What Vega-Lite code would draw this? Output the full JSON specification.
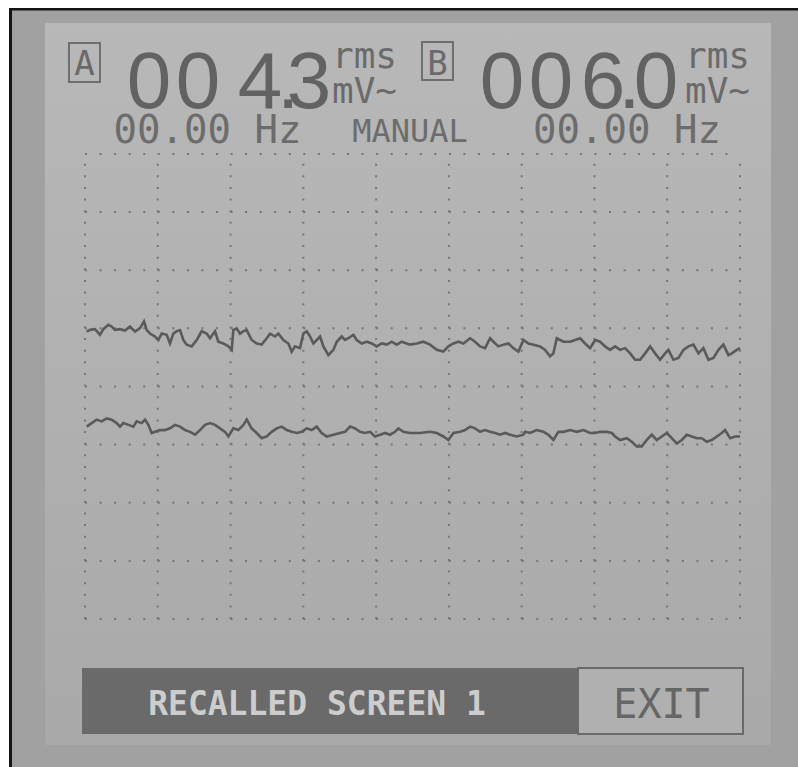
{
  "$schema": "https://vega.github.io/schema/vega-lite/v6.json",
  "width": 798,
  "height": 767,
  "autosize": {"type": "fit", "contains": "padding"},
  "padding": 0,
  "background": "#ffffff",
  "config": {"view": {"stroke": null}},
  "datasets": {
    "panels": [
      {"part": "frame", "x": -1.044, "x2": 9.7967, "y": -2.546, "y2": 10.512},
      {"part": "bezel", "x": -1.003, "x2": 9.7967, "y": -2.546, "y2": 10.469},
      {"part": "screen", "x": -0.550, "x2": 9.426, "y": -2.168, "y2": 10.254},
      {"part": "bar", "x": -0.041, "x2": 6.774, "y": -1.978, "y2": -0.843},
      {"part": "exit", "x": 6.774, "x2": 9.041, "y": -1.978, "y2": -0.843},
      {"part": "box", "x": -0.220, "x2": 0.206, "y": 9.239, "y2": 9.910},
      {"part": "box", "x": 4.630, "x2": 5.056, "y": 9.273, "y2": 9.927}
    ],
    "vgrid": [
      {"x": 0, "y": 0, "y2": 8}, {"x": 1, "y": 0, "y2": 8}, {"x": 2, "y": 0, "y2": 8},
      {"x": 3, "y": 0, "y2": 8}, {"x": 4, "y": 0, "y2": 8}, {"x": 5, "y": 0, "y2": 8},
      {"x": 6, "y": 0, "y2": 8}, {"x": 7, "y": 0, "y2": 8}, {"x": 8, "y": 0, "y2": 8},
      {"x": 9, "y": 0, "y2": 8}
    ],
    "hgrid": [
      {"y": 0, "x": 0, "x2": 9}, {"y": 1, "x": 0, "x2": 9}, {"y": 2, "x": 0, "x2": 9},
      {"y": 3, "x": 0, "x2": 9}, {"y": 4, "x": 0, "x2": 9}, {"y": 5, "x": 0, "x2": 9},
      {"y": 6, "x": 0, "x2": 9}, {"y": 7, "x": 0, "x2": 9}, {"y": 8, "x": 0, "x2": 9}
    ],
    "labels": [
      {"role": "digit", "text": "0", "x": 0.879, "y": 8.791},
      {"role": "digit", "text": "0", "x": 1.553, "y": 8.791},
      {"role": "digit", "text": "4", "x": 2.405, "y": 8.791},
      {"role": "digit", "text": ".", "x": 2.790, "y": 8.791},
      {"role": "digit", "text": "3", "x": 3.078, "y": 8.791},
      {"role": "digit", "text": "0", "x": 5.730, "y": 8.791},
      {"role": "digit", "text": "0", "x": 6.403, "y": 8.791},
      {"role": "digit", "text": "6", "x": 7.117, "y": 8.791},
      {"role": "digit", "text": ".", "x": 7.480, "y": 8.791},
      {"role": "digit", "text": "0", "x": 7.845, "y": 8.791},
      {"role": "unit", "text": "rms", "x": 3.394, "y": 9.48},
      {"role": "unit", "text": "mV~", "x": 3.394, "y": 8.877},
      {"role": "unit", "text": "rms", "x": 8.244, "y": 9.48},
      {"role": "unit", "text": "mV~", "x": 8.244, "y": 8.877},
      {"role": "box", "text": "A", "x": -0.007, "y": 9.359},
      {"role": "box", "text": "B", "x": 4.843, "y": 9.359},
      {"role": "freq", "text": "00.00 Hz", "x": 1.683, "y": 8.189},
      {"role": "freq", "text": "00.00 Hz", "x": 7.447, "y": 8.189},
      {"role": "manual", "text": "MANUAL", "x": 4.466, "y": 8.206},
      {"role": "recalled", "text": "RECALLED SCREEN 1", "x": 3.188, "y": -1.652},
      {"role": "exit", "text": "EXIT", "x": 7.921, "y": -1.703}
    ],
    "traces": [
      {"ch":"A","x":0.023,"y":4.945},{"ch":"A","x":0.069,"y":4.974},{"ch":"A","x":0.137,"y":4.986},{"ch":"A","x":0.206,"y":4.888},{"ch":"A","x":0.252,"y":4.986},{"ch":"A","x":0.321,"y":5.060},{"ch":"A","x":0.366,"y":5.032},{"ch":"A","x":0.412,"y":4.974},{"ch":"A","x":0.481,"y":4.986},{"ch":"A","x":0.550,"y":4.963},{"ch":"A","x":0.618,"y":5.032},{"ch":"A","x":0.687,"y":4.945},{"ch":"A","x":0.756,"y":5.003},{"ch":"A","x":0.811,"y":5.118},{"ch":"A","x":0.847,"y":4.974},{"ch":"A","x":0.893,"y":4.91},{"ch":"A","x":0.962,"y":4.86},{"ch":"A","x":1.008,"y":4.80},{"ch":"A","x":1.054,"y":4.91},{"ch":"A","x":1.122,"y":4.89},{"ch":"A","x":1.168,"y":4.74},{"ch":"A","x":1.214,"y":4.91},{"ch":"A","x":1.260,"y":4.95},{"ch":"A","x":1.306,"y":4.97},{"ch":"A","x":1.351,"y":4.80},{"ch":"A","x":1.397,"y":4.72},{"ch":"A","x":1.466,"y":4.69},{"ch":"A","x":1.535,"y":4.80},{"ch":"A","x":1.603,"y":4.95},{"ch":"A","x":1.672,"y":4.91},{"ch":"A","x":1.718,"y":4.83},{"ch":"A","x":1.787,"y":4.95},{"ch":"A","x":1.832,"y":4.77},{"ch":"A","x":1.901,"y":4.74},{"ch":"A","x":1.970,"y":4.69},{"ch":"A","x":2.016,"y":4.63},{"ch":"A","x":2.038,"y":4.97},{"ch":"A","x":2.084,"y":5.00},{"ch":"A","x":2.130,"y":4.91},{"ch":"A","x":2.176,"y":4.95},{"ch":"A","x":2.222,"y":4.97},{"ch":"A","x":2.290,"y":4.80},{"ch":"A","x":2.359,"y":4.74},{"ch":"A","x":2.428,"y":4.72},{"ch":"A","x":2.497,"y":4.83},{"ch":"A","x":2.542,"y":4.91},{"ch":"A","x":2.611,"y":4.86},{"ch":"A","x":2.657,"y":4.91},{"ch":"A","x":2.726,"y":4.80},{"ch":"A","x":2.794,"y":4.74},{"ch":"A","x":2.840,"y":4.60},{"ch":"A","x":2.886,"y":4.69},{"ch":"A","x":2.955,"y":4.66},{"ch":"A","x":3.000,"y":4.91},{"ch":"A","x":3.046,"y":4.95},{"ch":"A","x":3.092,"y":4.86},{"ch":"A","x":3.138,"y":4.74},{"ch":"A","x":3.184,"y":4.80},{"ch":"A","x":3.230,"y":4.86},{"ch":"A","x":3.275,"y":4.69},{"ch":"A","x":3.344,"y":4.54},{"ch":"A","x":3.413,"y":4.63},{"ch":"A","x":3.459,"y":4.77},{"ch":"A","x":3.527,"y":4.86},{"ch":"A","x":3.573,"y":4.80},{"ch":"A","x":3.619,"y":4.83},{"ch":"A","x":3.688,"y":4.89},{"ch":"A","x":3.733,"y":4.80},{"ch":"A","x":3.802,"y":4.74},{"ch":"A","x":3.871,"y":4.77},{"ch":"A","x":3.940,"y":4.74},{"ch":"A","x":4.008,"y":4.69},{"ch":"A","x":4.077,"y":4.74},{"ch":"A","x":4.146,"y":4.72},{"ch":"A","x":4.214,"y":4.77},{"ch":"A","x":4.283,"y":4.72},{"ch":"A","x":4.352,"y":4.77},{"ch":"A","x":4.420,"y":4.74},{"ch":"A","x":4.466,"y":4.72},{"ch":"A","x":4.558,"y":4.74},{"ch":"A","x":4.650,"y":4.77},{"ch":"A","x":4.741,"y":4.72},{"ch":"A","x":4.833,"y":4.63},{"ch":"A","x":4.924,"y":4.60},{"ch":"A","x":4.993,"y":4.69},{"ch":"A","x":5.062,"y":4.74},{"ch":"A","x":5.131,"y":4.77},{"ch":"A","x":5.199,"y":4.74},{"ch":"A","x":5.291,"y":4.83},{"ch":"A","x":5.360,"y":4.77},{"ch":"A","x":5.428,"y":4.69},{"ch":"A","x":5.497,"y":4.66},{"ch":"A","x":5.566,"y":4.83},{"ch":"A","x":5.612,"y":4.77},{"ch":"A","x":5.680,"y":4.69},{"ch":"A","x":5.749,"y":4.72},{"ch":"A","x":5.818,"y":4.74},{"ch":"A","x":5.886,"y":4.66},{"ch":"A","x":5.955,"y":4.60},{"ch":"A","x":6.024,"y":4.80},{"ch":"A","x":6.093,"y":4.74},{"ch":"A","x":6.161,"y":4.72},{"ch":"A","x":6.253,"y":4.69},{"ch":"A","x":6.322,"y":4.63},{"ch":"A","x":6.390,"y":4.52},{"ch":"A","x":6.436,"y":4.57},{"ch":"A","x":6.482,"y":4.83},{"ch":"A","x":6.574,"y":4.77},{"ch":"A","x":6.665,"y":4.77},{"ch":"A","x":6.734,"y":4.80},{"ch":"A","x":6.803,"y":4.83},{"ch":"A","x":6.871,"y":4.74},{"ch":"A","x":6.940,"y":4.66},{"ch":"A","x":7.009,"y":4.80},{"ch":"A","x":7.078,"y":4.77},{"ch":"A","x":7.146,"y":4.69},{"ch":"A","x":7.215,"y":4.63},{"ch":"A","x":7.284,"y":4.69},{"ch":"A","x":7.352,"y":4.63},{"ch":"A","x":7.421,"y":4.66},{"ch":"A","x":7.490,"y":4.57},{"ch":"A","x":7.558,"y":4.46},{"ch":"A","x":7.627,"y":4.46},{"ch":"A","x":7.696,"y":4.57},{"ch":"A","x":7.765,"y":4.69},{"ch":"A","x":7.833,"y":4.57},{"ch":"A","x":7.902,"y":4.46},{"ch":"A","x":7.971,"y":4.57},{"ch":"A","x":8.016,"y":4.63},{"ch":"A","x":8.085,"y":4.46},{"ch":"A","x":8.154,"y":4.49},{"ch":"A","x":8.223,"y":4.63},{"ch":"A","x":8.291,"y":4.69},{"ch":"A","x":8.360,"y":4.72},{"ch":"A","x":8.429,"y":4.57},{"ch":"A","x":8.497,"y":4.66},{"ch":"A","x":8.566,"y":4.46},{"ch":"A","x":8.635,"y":4.49},{"ch":"A","x":8.704,"y":4.63},{"ch":"A","x":8.772,"y":4.72},{"ch":"A","x":8.841,"y":4.54},{"ch":"A","x":8.887,"y":4.57},{"ch":"A","x":8.955,"y":4.63},{"ch":"A","x":9.0,"y":4.66},
      {"ch":"B","x":0.023,"y":3.31},{"ch":"B","x":0.092,"y":3.37},{"ch":"B","x":0.160,"y":3.43},{"ch":"B","x":0.229,"y":3.40},{"ch":"B","x":0.298,"y":3.45},{"ch":"B","x":0.366,"y":3.43},{"ch":"B","x":0.435,"y":3.37},{"ch":"B","x":0.481,"y":3.31},{"ch":"B","x":0.527,"y":3.37},{"ch":"B","x":0.596,"y":3.34},{"ch":"B","x":0.664,"y":3.31},{"ch":"B","x":0.710,"y":3.40},{"ch":"B","x":0.779,"y":3.37},{"ch":"B","x":0.825,"y":3.43},{"ch":"B","x":0.870,"y":3.34},{"ch":"B","x":0.916,"y":3.20},{"ch":"B","x":0.962,"y":3.22},{"ch":"B","x":1.031,"y":3.25},{"ch":"B","x":1.099,"y":3.25},{"ch":"B","x":1.168,"y":3.28},{"ch":"B","x":1.237,"y":3.34},{"ch":"B","x":1.306,"y":3.31},{"ch":"B","x":1.374,"y":3.25},{"ch":"B","x":1.443,"y":3.22},{"ch":"B","x":1.512,"y":3.17},{"ch":"B","x":1.580,"y":3.25},{"ch":"B","x":1.649,"y":3.34},{"ch":"B","x":1.718,"y":3.37},{"ch":"B","x":1.787,"y":3.34},{"ch":"B","x":1.855,"y":3.28},{"ch":"B","x":1.924,"y":3.22},{"ch":"B","x":1.970,"y":3.14},{"ch":"B","x":2.038,"y":3.28},{"ch":"B","x":2.107,"y":3.25},{"ch":"B","x":2.176,"y":3.34},{"ch":"B","x":2.222,"y":3.43},{"ch":"B","x":2.290,"y":3.28},{"ch":"B","x":2.359,"y":3.20},{"ch":"B","x":2.428,"y":3.11},{"ch":"B","x":2.497,"y":3.14},{"ch":"B","x":2.565,"y":3.22},{"ch":"B","x":2.634,"y":3.28},{"ch":"B","x":2.703,"y":3.31},{"ch":"B","x":2.771,"y":3.25},{"ch":"B","x":2.840,"y":3.22},{"ch":"B","x":2.909,"y":3.20},{"ch":"B","x":2.978,"y":3.22},{"ch":"B","x":3.046,"y":3.28},{"ch":"B","x":3.115,"y":3.25},{"ch":"B","x":3.184,"y":3.31},{"ch":"B","x":3.252,"y":3.20},{"ch":"B","x":3.321,"y":3.14},{"ch":"B","x":3.413,"y":3.17},{"ch":"B","x":3.504,"y":3.20},{"ch":"B","x":3.573,"y":3.22},{"ch":"B","x":3.642,"y":3.31},{"ch":"B","x":3.711,"y":3.28},{"ch":"B","x":3.779,"y":3.22},{"ch":"B","x":3.848,"y":3.20},{"ch":"B","x":3.917,"y":3.22},{"ch":"B","x":3.985,"y":3.14},{"ch":"B","x":4.054,"y":3.17},{"ch":"B","x":4.123,"y":3.20},{"ch":"B","x":4.191,"y":3.17},{"ch":"B","x":4.260,"y":3.22},{"ch":"B","x":4.306,"y":3.28},{"ch":"B","x":4.375,"y":3.22},{"ch":"B","x":4.466,"y":3.20},{"ch":"B","x":4.604,"y":3.20},{"ch":"B","x":4.741,"y":3.22},{"ch":"B","x":4.833,"y":3.20},{"ch":"B","x":4.924,"y":3.14},{"ch":"B","x":4.993,"y":3.08},{"ch":"B","x":5.062,"y":3.20},{"ch":"B","x":5.154,"y":3.22},{"ch":"B","x":5.222,"y":3.25},{"ch":"B","x":5.291,"y":3.31},{"ch":"B","x":5.360,"y":3.28},{"ch":"B","x":5.428,"y":3.22},{"ch":"B","x":5.497,"y":3.25},{"ch":"B","x":5.566,"y":3.22},{"ch":"B","x":5.635,"y":3.20},{"ch":"B","x":5.703,"y":3.17},{"ch":"B","x":5.772,"y":3.20},{"ch":"B","x":5.841,"y":3.17},{"ch":"B","x":5.932,"y":3.14},{"ch":"B","x":6.024,"y":3.17},{"ch":"B","x":6.047,"y":3.22},{"ch":"B","x":6.115,"y":3.20},{"ch":"B","x":6.207,"y":3.25},{"ch":"B","x":6.299,"y":3.22},{"ch":"B","x":6.367,"y":3.17},{"ch":"B","x":6.436,"y":3.08},{"ch":"B","x":6.505,"y":3.22},{"ch":"B","x":6.574,"y":3.22},{"ch":"B","x":6.665,"y":3.25},{"ch":"B","x":6.757,"y":3.22},{"ch":"B","x":6.848,"y":3.25},{"ch":"B","x":6.940,"y":3.20},{"ch":"B","x":7.009,"y":3.20},{"ch":"B","x":7.078,"y":3.22},{"ch":"B","x":7.169,"y":3.22},{"ch":"B","x":7.238,"y":3.20},{"ch":"B","x":7.284,"y":3.14},{"ch":"B","x":7.352,"y":3.08},{"ch":"B","x":7.444,"y":3.11},{"ch":"B","x":7.513,"y":3.05},{"ch":"B","x":7.581,"y":2.97},{"ch":"B","x":7.650,"y":2.97},{"ch":"B","x":7.719,"y":3.08},{"ch":"B","x":7.788,"y":3.17},{"ch":"B","x":7.856,"y":3.08},{"ch":"B","x":7.925,"y":3.14},{"ch":"B","x":7.994,"y":3.20},{"ch":"B","x":8.062,"y":3.11},{"ch":"B","x":8.131,"y":3.02},{"ch":"B","x":8.200,"y":3.08},{"ch":"B","x":8.268,"y":3.17},{"ch":"B","x":8.337,"y":3.14},{"ch":"B","x":8.406,"y":3.11},{"ch":"B","x":8.475,"y":3.11},{"ch":"B","x":8.543,"y":3.05},{"ch":"B","x":8.612,"y":3.08},{"ch":"B","x":8.681,"y":3.14},{"ch":"B","x":8.749,"y":3.20},{"ch":"B","x":8.795,"y":3.25},{"ch":"B","x":8.864,"y":3.11},{"ch":"B","x":8.933,"y":3.14},{"ch":"B","x":9.0,"y":3.14}
    ]
  },
  "layer": [
    {
      "data": {"name": "panels"},
      "transform": [{"filter": "datum.part === 'frame'"}],
      "mark": {"type": "rect", "color": "#141414"},
      "encoding": {
        "x": {"field": "x", "type": "quantitative", "scale": {"domain": [-1.1679, 9.7967], "nice": false, "zero": false}, "axis": null},
        "x2": {"field": "x2"},
        "y": {"field": "y", "type": "quantitative", "scale": {"domain": [-2.546, 10.649], "nice": false, "zero": false}, "axis": null},
        "y2": {"field": "y2"}
      }
    },
    {
      "data": {"name": "panels"},
      "transform": [{"filter": "datum.part === 'bezel'"}],
      "mark": {"type": "rect", "color": "#a1a1a1"},
      "encoding": {
        "x": {"field": "x", "type": "quantitative", "scale": {"domain": [-1.1679, 9.7967], "nice": false, "zero": false}, "axis": null},
        "x2": {"field": "x2"},
        "y": {"field": "y", "type": "quantitative", "scale": {"domain": [-2.546, 10.649], "nice": false, "zero": false}, "axis": null},
        "y2": {"field": "y2"}
      }
    },
    {
      "data": {"name": "panels"},
      "transform": [{"filter": "datum.part === 'screen'"}],
      "mark": {"type": "rect", "color": {"gradient": "linear", "x1": 0, "y1": 0, "x2": 0, "y2": 1, "stops": [{"offset": 0, "color": "#b8b8b8"}, {"offset": 1, "color": "#a9a9a9"}]}},
      "encoding": {
        "x": {"field": "x", "type": "quantitative", "scale": {"domain": [-1.1679, 9.7967], "nice": false, "zero": false}, "axis": null},
        "x2": {"field": "x2"},
        "y": {"field": "y", "type": "quantitative", "scale": {"domain": [-2.546, 10.649], "nice": false, "zero": false}, "axis": null},
        "y2": {"field": "y2"}
      }
    },
    {
      "data": {"name": "vgrid"},
      "mark": {"type": "rule", "color": "#767676", "strokeWidth": 2, "strokeDash": [2, 9.625]},
      "encoding": {
        "x": {"field": "x", "type": "quantitative", "scale": {"domain": [-1.1679, 9.7967], "nice": false, "zero": false}, "axis": null},
        "y": {"field": "y", "type": "quantitative", "scale": {"domain": [-2.546, 10.649], "nice": false, "zero": false}, "axis": null},
        "y2": {"field": "y2"}
      }
    },
    {
      "data": {"name": "hgrid"},
      "mark": {"type": "rule", "color": "#767676", "strokeWidth": 2, "strokeDash": [2, 12.556]},
      "encoding": {
        "x": {"field": "x", "type": "quantitative", "scale": {"domain": [-1.1679, 9.7967], "nice": false, "zero": false}, "axis": null},
        "x2": {"field": "x2"},
        "y": {"field": "y", "type": "quantitative", "scale": {"domain": [-2.546, 10.649], "nice": false, "zero": false}, "axis": null}
      }
    },
    {
      "data": {"name": "panels"},
      "transform": [{"filter": "datum.part === 'bar'"}],
      "mark": {"type": "rect", "color": "#6a6a6a"},
      "encoding": {
        "x": {"field": "x", "type": "quantitative", "scale": {"domain": [-1.1679, 9.7967], "nice": false, "zero": false}, "axis": null},
        "x2": {"field": "x2"},
        "y": {"field": "y", "type": "quantitative", "scale": {"domain": [-2.546, 10.649], "nice": false, "zero": false}, "axis": null},
        "y2": {"field": "y2"}
      }
    },
    {
      "data": {"name": "panels"},
      "transform": [{"filter": "datum.part === 'exit'"}],
      "mark": {"type": "rect", "fill": "#b0b0b0", "stroke": "#6a6a6a", "strokeWidth": 2},
      "encoding": {
        "x": {"field": "x", "type": "quantitative", "scale": {"domain": [-1.1679, 9.7967], "nice": false, "zero": false}, "axis": null},
        "x2": {"field": "x2"},
        "y": {"field": "y", "type": "quantitative", "scale": {"domain": [-2.546, 10.649], "nice": false, "zero": false}, "axis": null},
        "y2": {"field": "y2"}
      }
    },
    {
      "data": {"name": "panels"},
      "transform": [{"filter": "datum.part === 'box'"}],
      "mark": {"type": "rect", "fill": null, "stroke": "#6e6e6e", "strokeWidth": 2},
      "encoding": {
        "x": {"field": "x", "type": "quantitative", "scale": {"domain": [-1.1679, 9.7967], "nice": false, "zero": false}, "axis": null},
        "x2": {"field": "x2"},
        "y": {"field": "y", "type": "quantitative", "scale": {"domain": [-2.546, 10.649], "nice": false, "zero": false}, "axis": null},
        "y2": {"field": "y2"}
      }
    },
    {
      "data": {"name": "traces"},
      "mark": {"type": "line", "color": "#5a5a5a", "strokeWidth": 2.6, "strokeJoin": "miter"},
      "encoding": {
        "x": {"field": "x", "type": "quantitative", "scale": {"domain": [-1.1679, 9.7967], "nice": false, "zero": false}, "axis": null},
        "y": {"field": "y", "type": "quantitative", "scale": {"domain": [-2.546, 10.649], "nice": false, "zero": false}, "axis": null},
        "detail": {"field": "ch"}
      }
    },
    {
      "data": {"name": "labels"},
      "transform": [{"filter": "datum.role === 'digit'"}],
      "mark": {"type": "text", "font": "Liberation Sans", "fontWeight": "normal", "fontSize": 80, "color": "#626262", "align": "center", "baseline": "alphabetic"},
      "encoding": {
        "x": {"field": "x", "type": "quantitative", "scale": {"domain": [-1.1679, 9.7967], "nice": false, "zero": false}, "axis": null},
        "y": {"field": "y", "type": "quantitative", "scale": {"domain": [-2.546, 10.649], "nice": false, "zero": false}, "axis": null},
        "text": {"field": "text"}
      }
    },
    {
      "data": {"name": "labels"},
      "transform": [{"filter": "datum.role === 'unit'"}],
      "mark": {"type": "text", "font": "DejaVu Sans Mono", "fontSize": 36, "color": "#6a6a6a", "align": "left", "baseline": "alphabetic"},
      "encoding": {
        "x": {"field": "x", "type": "quantitative", "scale": {"domain": [-1.1679, 9.7967], "nice": false, "zero": false}, "axis": null},
        "y": {"field": "y", "type": "quantitative", "scale": {"domain": [-2.546, 10.649], "nice": false, "zero": false}, "axis": null},
        "text": {"field": "text"}
      }
    },
    {
      "data": {"name": "labels"},
      "transform": [{"filter": "datum.role === 'box'"}],
      "mark": {"type": "text", "font": "DejaVu Sans Mono", "fontSize": 34, "color": "#6a6a6a", "align": "center", "baseline": "alphabetic"},
      "encoding": {
        "x": {"field": "x", "type": "quantitative", "scale": {"domain": [-1.1679, 9.7967], "nice": false, "zero": false}, "axis": null},
        "y": {"field": "y", "type": "quantitative", "scale": {"domain": [-2.546, 10.649], "nice": false, "zero": false}, "axis": null},
        "text": {"field": "text"}
      }
    },
    {
      "data": {"name": "labels"},
      "transform": [{"filter": "datum.role === 'freq'"}],
      "mark": {"type": "text", "font": "DejaVu Sans Mono", "fontSize": 39, "color": "#6c6c6c", "align": "center", "baseline": "alphabetic"},
      "encoding": {
        "x": {"field": "x", "type": "quantitative", "scale": {"domain": [-1.1679, 9.7967], "nice": false, "zero": false}, "axis": null},
        "y": {"field": "y", "type": "quantitative", "scale": {"domain": [-2.546, 10.649], "nice": false, "zero": false}, "axis": null},
        "text": {"field": "text"}
      }
    },
    {
      "data": {"name": "labels"},
      "transform": [{"filter": "datum.role === 'manual'"}],
      "mark": {"type": "text", "font": "DejaVu Sans Mono", "fontSize": 32, "color": "#6c6c6c", "align": "center", "baseline": "alphabetic"},
      "encoding": {
        "x": {"field": "x", "type": "quantitative", "scale": {"domain": [-1.1679, 9.7967], "nice": false, "zero": false}, "axis": null},
        "y": {"field": "y", "type": "quantitative", "scale": {"domain": [-2.546, 10.649], "nice": false, "zero": false}, "axis": null},
        "text": {"field": "text"}
      }
    },
    {
      "data": {"name": "labels"},
      "transform": [{"filter": "datum.role === 'recalled'"}],
      "mark": {"type": "text", "font": "DejaVu Sans Mono", "fontWeight": "bold", "fontSize": 33, "color": "#cdcdcd", "align": "center", "baseline": "alphabetic"},
      "encoding": {
        "x": {"field": "x", "type": "quantitative", "scale": {"domain": [-1.1679, 9.7967], "nice": false, "zero": false}, "axis": null},
        "y": {"field": "y", "type": "quantitative", "scale": {"domain": [-2.546, 10.649], "nice": false, "zero": false}, "axis": null},
        "text": {"field": "text"}
      }
    },
    {
      "data": {"name": "labels"},
      "transform": [{"filter": "datum.role === 'exit'"}],
      "mark": {"type": "text", "font": "DejaVu Sans Mono", "fontSize": 40, "color": "#666666", "align": "center", "baseline": "alphabetic"},
      "encoding": {
        "x": {"field": "x", "type": "quantitative", "scale": {"domain": [-1.1679, 9.7967], "nice": false, "zero": false}, "axis": null},
        "y": {"field": "y", "type": "quantitative", "scale": {"domain": [-2.546, 10.649], "nice": false, "zero": false}, "axis": null},
        "text": {"field": "text"}
      }
    }
  ]
}
